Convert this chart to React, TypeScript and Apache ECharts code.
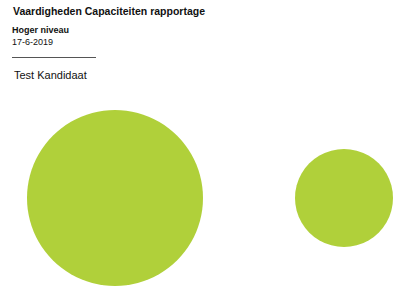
import React, { useEffect, useRef } from "react";
import * as echarts from "echarts";

const title = "Vaardigheden Capaciteiten rapportage";
const subtitle = "Hoger niveau";
const dateLabel = "17-6-2019";
const candidate = "Test Kandidaat";

const categories = ["Vaardigheden", "Capaciteiten"];
const positions = [0, 1];
const radii = [88, 49];

const FONT = "'Liberation Sans', Arial, sans-serif";

export default function App() {
  const ref = useRef<HTMLDivElement>(null);
  useEffect(() => {
    document.body.style.margin = "0";
    const chart = echarts.init(ref.current!, null, { renderer: "svg" });
    chart.setOption({
      animation: false,
      backgroundColor: "#ffffff",
      grid: { left: 115, right: 56, top: 150, bottom: 43 },
      xAxis: { type: "value", min: 0, max: 1, show: false },
      yAxis: { type: "value", min: 0, max: 1, show: false },
      tooltip: { show: false },
      series: [
        {
          type: "scatter",
          data: positions.map((p, i) => ({ name: categories[i], value: [p, 0.5, radii[i]] })),
          symbolSize: (v: number[]) => v[2] * 2,
          itemStyle: { color: "#B0D03A", opacity: 1 },
          silent: true,
        },
      ],
      graphic: [
        {
          type: "text",
          left: 13,
          top: 5,
          style: { text: title, font: `bold 10.5px ${FONT}`, fill: "#111" },
        },
        {
          type: "text",
          left: 12,
          top: 25,
          style: { text: subtitle, font: `bold 9px ${FONT}`, fill: "#111" },
        },
        {
          type: "text",
          left: 12,
          top: 37,
          style: { text: dateLabel, font: `9px ${FONT}`, fill: "#111" },
        },
        {
          type: "line",
          shape: { x1: 12, y1: 57.5, x2: 96, y2: 57.5 },
          style: { stroke: "#555", lineWidth: 1 },
        },
        {
          type: "text",
          left: 14,
          top: 69,
          style: { text: candidate, font: `11px ${FONT}`, fill: "#111" },
        },
      ],
    });
    return () => chart.dispose();
  }, []);
  return <div ref={ref} style={{ position: "absolute", left: 0, top: 0, width: 400, height: 289 }} />;
}
